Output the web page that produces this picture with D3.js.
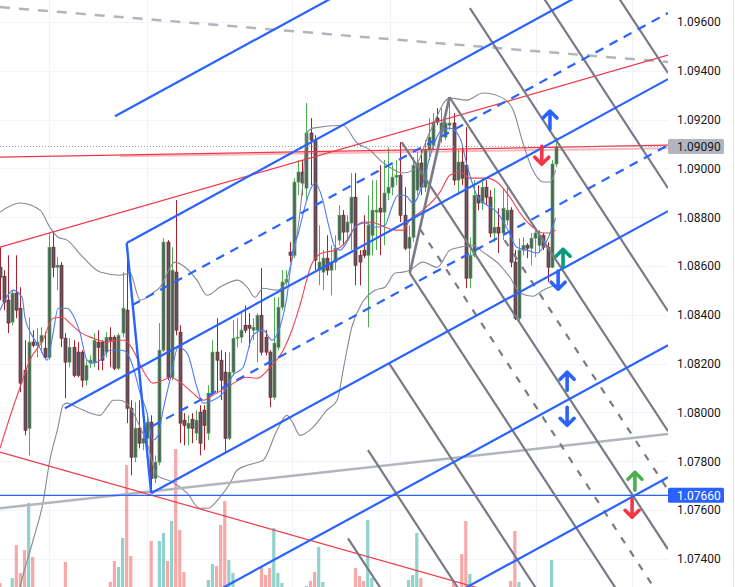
<!DOCTYPE html>
<html><head><meta charset="utf-8">
<script src="https://cdn.jsdelivr.net/npm/d3@7/dist/d3.min.js"></script>
<style>html,body{margin:0;padding:0;background:#fff;overflow:hidden}</style>
</head><body>
<svg id="c" width="735" height="587"></svg>
<script>
// ---------- DATA (EURUSD-like candles) ----------
const opens = [1.08595,1.08558,1.08460,1.08370,1.08489,1.08427,1.08173,1.07935,1.08288,1.08275,
1.08288,1.08263,1.08226,1.08677,1.08595,1.08603,1.08304,1.08206,1.08267,1.08247,
1.08247,1.08132,1.08202,1.08206,1.08288,1.08288,1.08247,1.08308,1.08308,1.08181,
1.08325,1.08419,1.08017,1.07816,1.07935,1.07874,1.07894,1.07960,1.07730,1.07796,
1.08255,1.08698,1.08144,1.08575,1.08329,1.07968,1.07935,1.07972,1.07915,1.08001,
1.08009,1.07915,1.08079,1.08247,1.08214,1.08165,1.07894,1.08165,1.08304,1.08308,
1.08357,1.08357,1.08337,1.08337,1.08398,1.08308,1.08247,1.08062,1.08267,1.08431,
1.08534,1.08657,1.08644,1.08944,1.08985,1.08919,1.09145,1.09116,1.08583,1.08575,
1.08632,1.08583,1.08616,1.08706,1.08808,1.08739,1.08776,1.08882,1.08644,1.08665,
1.08644,1.08726,1.08821,1.08837,1.08821,1.08899,1.08923,1.08964,1.08972,1.08808,
1.08673,1.08718,1.08911,1.09022,1.08923,1.09075,1.09095,1.09206,1.09145,1.09128,
1.09177,1.09186,1.08952,1.09026,1.09013,1.08550,1.08644,1.08890,1.08858,1.08923,
1.08882,1.08735,1.08759,1.08735,1.08788,1.08829,1.08616,1.08386,1.08665,1.08685,
1.08673,1.08714,1.08685,1.08726,1.08677,1.08595,1.09018];
const highs = [1.08677,1.08583,1.08644,1.08501,1.08644,1.08513,1.08296,1.08390,1.08337,1.08345,
1.08349,1.08329,1.08735,1.08739,1.08636,1.08616,1.08325,1.08304,1.08296,1.08288,
1.08255,1.08214,1.08234,1.08325,1.08337,1.08296,1.08329,1.08349,1.08316,1.08325,
1.08575,1.08694,1.08050,1.08042,1.08050,1.07947,1.07997,1.07988,1.07824,1.08366,
1.08714,1.08706,1.08677,1.08870,1.08357,1.07997,1.07988,1.07997,1.08009,1.08029,
1.08029,1.08111,1.08296,1.08386,1.08255,1.08247,1.08247,1.08378,1.08386,1.08407,
1.08439,1.08407,1.08386,1.08407,1.08591,1.08337,1.08255,1.08472,1.08472,1.08583,
1.08583,1.08698,1.08960,1.09034,1.09034,1.09268,1.09206,1.09136,1.08767,1.08665,
1.08726,1.08685,1.08726,1.08849,1.08829,1.08808,1.08981,1.08981,1.08665,1.08808,
1.08890,1.08952,1.08952,1.09013,1.09034,1.09087,1.09013,1.09034,1.09108,1.08923,
1.08767,1.09046,1.09067,1.09075,1.09116,1.09206,1.09227,1.09247,1.09247,1.09239,
1.09292,1.09227,1.09075,1.09095,1.09169,1.08718,1.08952,1.08931,1.08960,1.08952,
1.08911,1.08919,1.08837,1.08919,1.08931,1.08841,1.08665,1.08714,1.08718,1.08694,
1.08735,1.08759,1.08747,1.08735,1.08698,1.09034,1.09128];
const lows = [1.08460,1.08419,1.08325,1.08357,1.08386,1.08083,1.07906,1.07824,1.08267,1.08226,
1.08243,1.08222,1.08214,1.08554,1.08501,1.08267,1.08058,1.08185,1.08144,1.08144,
1.08103,1.08111,1.08181,1.08185,1.08173,1.08173,1.08226,1.08185,1.08173,1.08173,
1.08308,1.07956,1.07742,1.07796,1.07853,1.07845,1.07865,1.07669,1.07710,1.07783,
1.08247,1.08132,1.08132,1.08316,1.07874,1.07865,1.07865,1.07874,1.07886,1.07824,
1.07845,1.07886,1.08070,1.08079,1.08050,1.07837,1.07886,1.08152,1.08267,1.08284,
1.08325,1.08267,1.08296,1.08206,1.08234,1.08234,1.08021,1.08050,1.08255,1.08419,
1.08521,1.08616,1.08632,1.08890,1.08890,1.08870,1.08931,1.08583,1.08521,1.08501,
1.08562,1.08480,1.08583,1.08685,1.08685,1.08706,1.08665,1.08521,1.08521,1.08632,
1.08349,1.08644,1.08665,1.08644,1.08685,1.08870,1.08890,1.08931,1.08780,1.08665,
1.08571,1.08698,1.08890,1.08890,1.08903,1.09034,1.09075,1.09177,1.09104,1.09116,
1.09157,1.08931,1.08890,1.08931,1.08509,1.08509,1.08636,1.08829,1.08829,1.08849,
1.08718,1.08698,1.08653,1.08706,1.08767,1.08595,1.08378,1.08370,1.08644,1.08632,
1.08603,1.08636,1.08653,1.08665,1.08534,1.08591,1.09005];
const closes = [1.08554,1.08452,1.08366,1.08489,1.08419,1.08120,1.07927,1.08288,1.08275,1.08288,
1.08316,1.08226,1.08677,1.08595,1.08603,1.08304,1.08206,1.08267,1.08152,1.08152,
1.08132,1.08193,1.08214,1.08296,1.08267,1.08214,1.08308,1.08296,1.08181,1.08316,
1.08427,1.08017,1.07816,1.07935,1.07874,1.07894,1.07960,1.07730,1.07796,1.08255,
1.08698,1.08144,1.08583,1.08337,1.07956,1.07947,1.07956,1.07935,1.07968,1.07874,
1.07947,1.08079,1.08247,1.08214,1.08132,1.07894,1.08165,1.08304,1.08308,1.08337,
1.08337,1.08345,1.08349,1.08398,1.08247,1.08247,1.08062,1.08284,1.08431,1.08534,
1.08546,1.08644,1.08944,1.08985,1.08940,1.09145,1.09116,1.08624,1.08616,1.08632,
1.08583,1.08616,1.08673,1.08808,1.08739,1.08780,1.08882,1.08603,1.08616,1.08644,
1.08767,1.08829,1.08829,1.08821,1.08899,1.08923,1.08964,1.08972,1.08808,1.08673,
1.08718,1.09013,1.09022,1.08923,1.09075,1.09128,1.09190,1.09190,1.09186,1.09186,
1.09186,1.08952,1.09026,1.08960,1.08550,1.08644,1.08890,1.08858,1.08923,1.08882,
1.08735,1.08759,1.08735,1.08837,1.08829,1.08616,1.08386,1.08665,1.08685,1.08673,
1.08714,1.08735,1.08726,1.08677,1.08595,1.09018,1.09090];
const volumes = [170,60,50,220,550,270,500,970,430,80,
70,60,90,80,60,70,380,80,70,60,
80,70,60,80,70,60,80,180,390,330,
620,1350,440,100,90,80,100,590,100,590,
670,390,790,1510,700,280,100,90,80,110,
100,200,360,340,750,990,400,270,90,80,
90,80,70,90,340,250,320,720,270,170,
90,80,110,90,100,140,190,280,530,180,
90,80,90,100,80,70,100,320,240,190,
800,220,90,80,90,100,80,70,100,90,
200,250,670,220,100,90,100,80,90,100,
110,190,100,460,790,260,110,80,90,70,
100,80,90,80,90,190,690,180,80,70,
90,80,70,80,110,400,120];

// indicator lines: [candle index, price]
const bbUpper = [[0,1.08821],[4.9,1.08858],[9.8,1.08829],[12.2,1.08759],[14.2,1.08718],[16.4,1.08706],[20.3,1.08636],[24.5,1.08575],[29.4,1.08562],[31.8,1.08571],[34.3,1.08460],[37.4,1.08489],[39.2,1.08513],[42.8,1.08616],[45.3,1.08595],[48.2,1.08542],[50.7,1.08480],[53.8,1.08513],[58.2,1.08542],[60.5,1.08513],[62.4,1.08472],[64.4,1.08509],[67.8,1.08501],[69.8,1.08530],[71.0,1.08595],[72.7,1.08726],[74.2,1.08952],[75.1,1.09145],[76.6,1.09165],[83.9,1.09177],[87.4,1.09104],[90.6,1.09075],[93.0,1.09034],[95.4,1.09005],[98.6,1.08981],[101.1,1.08993],[105.2,1.09149],[110.1,1.09288],[114.3,1.09280],[118.2,1.09309],[123.1,1.09288],[125.6,1.09239],[128.0,1.09104],[130.4,1.08993],[132.9,1.08944],[134.6,1.08944],[136,1.08993]];
const bbLower = [[2.4,1.07066],[4.9,1.07283],[8.1,1.07476],[10.5,1.07628],[12.2,1.07804],[14.2,1.07939],[15.4,1.08029],[16.4,1.08038],[18.8,1.08021],[24.5,1.07988],[26.2,1.08021],[27.7,1.08050],[29.4,1.08050],[31.8,1.08021],[34.3,1.07939],[36.0,1.07874],[38.4,1.07742],[42.3,1.07714],[45.8,1.07669],[48.9,1.07607],[50.9,1.07607],[53.8,1.07652],[56.3,1.07710],[58.0,1.07763],[60.5,1.07783],[64.4,1.07804],[67.8,1.07927],[70.2,1.07988],[71.7,1.07956],[73.4,1.07906],[76.6,1.07939],[80.0,1.08009],[82.5,1.08050],[84.2,1.08193],[86.1,1.08349],[88.6,1.08448],[91.8,1.08501],[94.2,1.08513],[96.7,1.08571],[98.6,1.08575],[100.3,1.08583],[103.5,1.08616],[107.0,1.08595],[110.1,1.08665],[112.6,1.08677],[115.8,1.08685],[118.2,1.08657],[122.4,1.08603],[124.8,1.08554],[127.3,1.08489],[130.4,1.08476],[132.9,1.08501],[136,1.08521]];
const smaRed = [[0,1.07853],[2.4,1.07980],[4.9,1.08103],[7.3,1.08214],[10.5,1.08296],[13.0,1.08386],[15.2,1.08390],[17.1,1.08366],[19.6,1.08329],[22.8,1.08304],[26.2,1.08288],[28.9,1.08296],[30.6,1.08296],[32.6,1.08255],[35.0,1.08173],[37.4,1.08120],[39.9,1.08132],[41.6,1.08144],[44.1,1.08124],[47.2,1.08079],[49.7,1.08050],[52.1,1.08070],[56.3,1.08111],[60.5,1.08144],[62.9,1.08140],[66.1,1.08185],[69.3,1.08255],[71.7,1.08349],[73.4,1.08439],[76.4,1.08612],[78.8,1.08653],[82.0,1.08665],[84.4,1.08694],[86.9,1.08759],[89.3,1.08780],[91.8,1.08776],[94.2,1.08759],[96.7,1.08747],[98.6,1.08747],[100.3,1.08788],[103.5,1.08829],[107.7,1.08903],[110.1,1.08972],[112.6,1.08985],[115.0,1.08960],[119.2,1.08960],[121.6,1.08944],[124.8,1.08882],[127.3,1.08817],[130.4,1.08759],[132.9,1.08735],[134.6,1.08735],[136,1.08747]];
const emaBlue = [[0,1.08419],[1.2,1.08460],[3.2,1.08501],[5.4,1.08472],[6.1,1.08390],[8.1,1.08308],[9.8,1.08263],[11.5,1.08214],[13.0,1.08325],[14.2,1.08427],[16.4,1.08427],[17.9,1.08398],[19.6,1.08325],[21.3,1.08214],[22.8,1.08202],[24.5,1.08214],[26.9,1.08255],[29.9,1.08255],[31.1,1.08243],[32.6,1.08185],[34.3,1.08079],[36.0,1.07997],[37.4,1.07886],[38.7,1.07906],[39.9,1.08009],[41.6,1.08132],[43.6,1.08267],[45.8,1.08243],[48.2,1.08103],[49.7,1.08038],[52.1,1.08050],[54.6,1.08079],[57.0,1.08152],[59.5,1.08185],[61.9,1.08316],[64.4,1.08337],[66.6,1.08296],[68.5,1.08349],[70.2,1.08472],[71.7,1.08665],[72.9,1.08726],[74.6,1.08841],[75.9,1.08911],[77.1,1.08940],[78.8,1.08882],[80.3,1.08776],[82.0,1.08677],[83.2,1.08665],[85.2,1.08706],[86.9,1.08759],[89.3,1.08776],[91.8,1.08759],[94.2,1.08767],[95.9,1.08841],[97.4,1.08890],[99.1,1.08890],[101.1,1.08858],[103.5,1.08940],[105.2,1.09046],[107.7,1.09149],[110.1,1.09165],[112.6,1.09124],[114.3,1.09013],[116.7,1.08890],[119.2,1.08849],[121.6,1.08821],[124.1,1.08755],[126.5,1.08677],[129.0,1.08665],[131.4,1.08653],[133.9,1.08706],[136,1.08796]];

// drawings: [index1, price1, index2, price2]
const blueForkSolid = [[28.14,1.09214,163.49,1.10449],[31,1.08694,163.49,1.09907],[15.9,1.08017,163.49,1.09366],[37,1.07669,163.49,1.08825],[48.95,1.07230,163.49,1.08275],[110.13,1.07246,163.49,1.07734]];
const blueForkDashed = [[32.3,1.08439,163.49,1.09637],[37.2,1.07943,163.49,1.09095]];
const blueForkHandle = [[31,1.08694,37,1.07669]];
const grayForkSolid = [[98.3,1.09108,163.49,1.07439],[110,1.09292,163.49,1.07923],[115.0,1.09657,163.49,1.08415],[127.3,1.09846,163.49,1.08919],[146.8,1.09817,163.49,1.09391],[100.3,1.08571,152.6,1.07230],[95.2,1.08202,133.1,1.07230],[90.06,1.07845,114.05,1.07230],[85.17,1.07484,95.08,1.07230]];
const grayForkDashed = [[102.8,1.08751,162.1,1.07230],[123.5,1.08706,163.49,1.07682]];
const grayForkHandle = [[100.3,1.08571,110,1.09292]];
const lightGrayDashed = [[0,1.09661,163.49,1.09436]];
const lightGraySolid = [[0,1.07607,163.49,1.07911]];
const redTrend = [[0,1.08677,163.49,1.09464],[0,1.09046,163.49,1.09095],[0,1.07837,122.37,1.07255]];
const pinkTrend = [[29.4,1.09050,163.49,1.09083]];
const hLevel = 1.07660;
const blueUp = [[134.6,1.09198],[138.8,1.08128]];
const blueDown = [[136.6,1.08542],[138.8,1.07984]];
const redDown = [[132.6,1.09054],[154.7,1.07607]];
const tealUp = [[137.8,1.08632]];
const greenUp = [[155.4,1.07718]];
const priceTicks = [1.074,1.076,1.078,1.080,1.082,1.084,1.086,1.088,1.090,1.092,1.094,1.096];
const timeGrid = [12,36,71.5,95.4,131.2,154.7];

// ---------- CHART ----------
const W = 668, H = 587;
const svg = d3.select('#c');
const x = d3.scaleLinear().domain([0,163.49]).range([0,W]);
const y = d3.scaleLinear().domain([1.074,1.096]).range([558.8,22]);
const vy = d3.scaleLinear().domain([0,1000]).range([600,500]);

svg.append('defs').append('clipPath').attr('id','clip')
  .append('rect').attr('x',0).attr('y',0).attr('width',W).attr('height',H);
const g = svg.append('g').attr('clip-path','url(#clip)');

// grid
g.selectAll('.hg').data(priceTicks).enter().append('line')
  .attr('x1',0).attr('x2',W).attr('y1',d=>Math.round(y(d))+0.5).attr('y2',d=>Math.round(y(d))+0.5)
  .attr('stroke','#f0f3fa').attr('stroke-width',1);
g.selectAll('.vg').data(timeGrid).enter().append('line')
  .attr('y1',0).attr('y2',H).attr('x1',d=>Math.round(x(d))+0.5).attr('x2',d=>Math.round(x(d))+0.5)
  .attr('stroke','#f0f3fa').attr('stroke-width',1);

const idx = d3.range(opens.length);
const up = i => closes[i] >= opens[i];

// volume
g.selectAll('.vol').data(idx).enter().append('rect')
  .attr('x',i=>x(i)-1.6).attr('width',3.2)
  .attr('y',i=>vy(volumes[i])).attr('height',i=>vy(0)-vy(volumes[i]))
  .attr('fill',i=>up(i)?'rgba(38,166,154,0.5)':'rgba(239,83,80,0.5)');

// candles
g.selectAll('.wick').data(idx).enter().append('line')
  .attr('x1',i=>Math.round(x(i))+0.5).attr('x2',i=>Math.round(x(i))+0.5)
  .attr('y1',i=>y(highs[i])).attr('y2',i=>y(lows[i]))
  .attr('stroke',i=>up(i)?'#4caf50':'#a8202a').attr('stroke-width',1);
g.selectAll('.body').data(idx).enter().append('rect')
  .attr('x',i=>Math.round(x(i))+0.5-1.5).attr('width',3)
  .attr('y',i=>y(Math.max(opens[i],closes[i])))
  .attr('height',i=>Math.max(1,Math.abs(y(opens[i])-y(closes[i]))))
  .attr('fill','#585b65')
  .attr('stroke',i=>up(i)?'#4caf50':'#7d1f26').attr('stroke-width',0.7);

// indicators
const ln = d3.line().x(d=>x(d[0])).y(d=>y(d[1])).curve(d3.curveMonotoneX);
[[bbUpper,'#868993'],[bbLower,'#868993'],[smaRed,'#f0444f'],[emaBlue,'#4a7cf5']].forEach(([d,c])=>{
  g.append('path').attr('d',ln(d)).attr('fill','none').attr('stroke',c).attr('stroke-width',1.1);
});

// drawings
function segs(data, color, width, dash){
  g.selectAll(null).data(data).enter().append('line')
    .attr('x1',d=>x(d[0])).attr('y1',d=>y(d[1])).attr('x2',d=>x(d[2])).attr('y2',d=>y(d[3]))
    .attr('stroke',color).attr('stroke-width',width)
    .attr('stroke-dasharray',dash||null).attr('stroke-linecap','butt');
}
segs(lightGrayDashed,'#b2b5be',2.5,'10,9');
segs(lightGraySolid,'#b2b5be',2.5);
segs(redTrend,'#f23645',1.2);
segs(pinkTrend,'rgba(242,54,69,0.35)',2);
g.append('line').attr('x1',0).attr('x2',W).attr('y1',y(hLevel)).attr('y2',y(hLevel))
  .attr('stroke','#2962ff').attr('stroke-width',1.2);
g.append('line').attr('x1',0).attr('x2',W)
  .attr('y1',y(closes[closes.length-1])).attr('y2',y(closes[closes.length-1]))
  .attr('stroke','#9598a1').attr('stroke-width',1).attr('stroke-dasharray','1,2');
segs(grayForkSolid,'#787b86',2.2);
segs(grayForkDashed,'#787b86',2.2,'7,9');
segs(grayForkHandle,'#787b86',2.6);
segs(blueForkSolid,'#2962ff',2.2);
segs(blueForkDashed,'#2962ff',2.2,'9,7');
segs(blueForkHandle,'#2962ff',2.4);

// arrows
function arrows(data, color, dir){
  data.forEach(d=>{
    const cx = x(d[0]), cy = y(d[1]), s = dir==='up'?-1:1;
    g.append('path')
      .attr('d',`M${cx},${cy-9*s} L${cx},${cy+9*s} M${cx-7},${cy+2*s} L${cx},${cy+9*s} L${cx+7},${cy+2*s}`)
      .attr('fill','none').attr('stroke',color).attr('stroke-width',3.6)
      .attr('stroke-linecap','round').attr('stroke-linejoin','round');
  });
}
arrows(blueUp,'#2962ff','up');
arrows(blueDown,'#2962ff','down');
arrows(redDown,'#f23645','down');
arrows(tealUp,'#089981','up');
arrows(greenUp,'#4caf50','up');

// price axis
const ax = svg.append('g');
ax.append('line').attr('x1',733.5).attr('x2',733.5).attr('y1',0).attr('y2',H).attr('stroke','#e0e3eb');
ax.selectAll('.tl').data(priceTicks).enter().append('text')
  .attr('x',677).attr('y',d=>y(d)).attr('dy','0.36em')
  .attr('font-family','Roboto, "Liberation Sans", sans-serif').attr('font-size',12)
  .attr('fill','#131722').text(d=>d.toFixed(5));
function badge(p, bg, fg){
  const yy = y(p);
  ax.append('rect').attr('x',668).attr('y',yy-7.5).attr('width',56).attr('height',15).attr('rx',1.5).attr('fill',bg);
  ax.append('text').attr('x',677).attr('y',yy).attr('dy','0.36em')
    .attr('font-family','Roboto, "Liberation Sans", sans-serif').attr('font-size',12)
    .attr('fill',fg).text(p.toFixed(5));
}
badge(closes[closes.length-1],'#b2b5be','#131722');
badge(hLevel,'#2962ff','#ffffff');
</script>
</body></html>
